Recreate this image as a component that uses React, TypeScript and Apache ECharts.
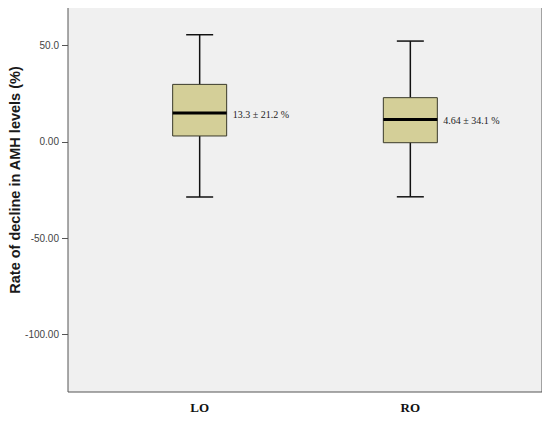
import React, { useEffect, useRef } from "react";
import * as echarts from "echarts";

// Categories: 9 slots so that the two groups sit where they do in the original
const categories = ["", "", "LO", "", "", "", "RO", "", ""];
const groupIndex = [2, 6];
const groupNames = ["LO", "RO"];
// [min whisker, Q1, median, Q3, max whisker]
const boxStats = [
  [-28.7, 3.0, 14.9, 29.8, 55.6],
  [-28.6, -0.5, 11.6, 22.9, 52.3],
];
const meanLabels = ["13.3 \u00b1 21.2 %", "4.64 \u00b1 34.1 %"];
const yTicks = [50, 0, -50, -100];
const yTickLabels = ["50.0", "0.00", "-50.00", "-100.00"];
const yTitle = "Rate of decline in AMH levels (%)";

export default function App() {
  const ref = useRef<HTMLDivElement>(null);
  useEffect(() => {
    if (!ref.current) return;
    const chart = echarts.init(ref.current, null, { renderer: "svg" });
    const BOX_W = 54;
    const CAP_W = 27;
    const data = groupIndex.map((g, i) => [g, ...boxStats[i], i]);
    chart.setOption({
      animation: false,
      backgroundColor: "#ffffff",
      grid: {
        left: 68,
        top: 7,
        right: 8,
        bottom: 31,
        show: true,
        backgroundColor: "#f0f0f0",
        borderColor: "#555555",
        borderWidth: 1,
      },
      xAxis: {
        type: "category",
        data: categories,
        axisLine: { show: false },
        axisTick: {
          show: true,
          alignWithLabel: true,
          length: 4,
          interval: (idx: number) => groupIndex.includes(idx),
          lineStyle: { color: "#555555" },
        },
        axisLabel: {
          interval: 0,
          margin: 9,
          fontFamily: "Liberation Serif",
          fontWeight: "bold",
          fontSize: 13,
          color: "#111111",
          formatter: (v: string) => (groupNames.includes(v) ? v : ""),
        },
      },
      yAxis: {
        type: "value",
        min: -130,
        max: 70,
        splitLine: { show: false },
        axisLine: { show: false },
        axisTick: {
          show: true,
          length: 6,
          customValues: yTicks,
          lineStyle: { color: "#555555" },
        },
        axisLabel: {
          customValues: yTicks,
          margin: 9,
          fontFamily: "Liberation Sans",
          fontSize: 10,
          color: "#444444",
          formatter: (v: number) => {
            const i = yTicks.indexOf(v);
            return i >= 0 ? yTickLabels[i] : "";
          },
        },
      },
      graphic: [
        {
          type: "text",
          x: 15,
          y: 180,
          rotation: Math.PI / 2,
          style: {
            text: yTitle,
            font: "bold 14.5px 'Liberation Sans'",
            fill: "#1a1a1a",
            textAlign: "center",
            textVerticalAlign: "middle",
          },
        },
      ],
      series: [
        {
          type: "custom",
          data,
          encode: { x: 0, y: [1, 2, 3, 4, 5] },
          renderItem: (params: any, api: any) => {
            const x = api.value(0);
            const lo = api.coord([x, api.value(1)]);
            const q1 = api.coord([x, api.value(2)]);
            const med = api.coord([x, api.value(3)]);
            const q3 = api.coord([x, api.value(4)]);
            const hi = api.coord([x, api.value(5)]);
            const cx = lo[0];
            const idx = api.value(6);
            const stroke = "#111111";
            return {
              type: "group",
              children: [
                { type: "line", shape: { x1: cx, y1: hi[1], x2: cx, y2: q3[1] }, style: { stroke, lineWidth: 1.5 } },
                { type: "line", shape: { x1: cx, y1: q1[1], x2: cx, y2: lo[1] }, style: { stroke, lineWidth: 1.5 } },
                { type: "line", shape: { x1: cx - CAP_W / 2, y1: hi[1], x2: cx + CAP_W / 2, y2: hi[1] }, style: { stroke, lineWidth: 1.5 } },
                { type: "line", shape: { x1: cx - CAP_W / 2, y1: lo[1], x2: cx + CAP_W / 2, y2: lo[1] }, style: { stroke, lineWidth: 1.5 } },
                {
                  type: "rect",
                  shape: { x: cx - BOX_W / 2, y: q3[1], width: BOX_W, height: q1[1] - q3[1] },
                  style: { fill: "#d4cf98", stroke: "#3a3a2a", lineWidth: 1 },
                },
                { type: "line", shape: { x1: cx - BOX_W / 2, y1: med[1], x2: cx + BOX_W / 2, y2: med[1] }, style: { stroke: "#000000", lineWidth: 3 } },
                {
                  type: "text",
                  x: cx + BOX_W / 2 + 6,
                  y: med[1] + 1,
                  style: {
                    text: meanLabels[idx],
                    font: "10px 'Liberation Serif'",
                    fill: "#222222",
                    textAlign: "left",
                    textVerticalAlign: "middle",
                  },
                },
              ],
            };
          },
        },
      ],
    });
    return () => chart.dispose();
  }, []);
  return <div ref={ref} style={{ width: 550, height: 423, marginLeft: -8, marginTop: -8 }} />;
}
